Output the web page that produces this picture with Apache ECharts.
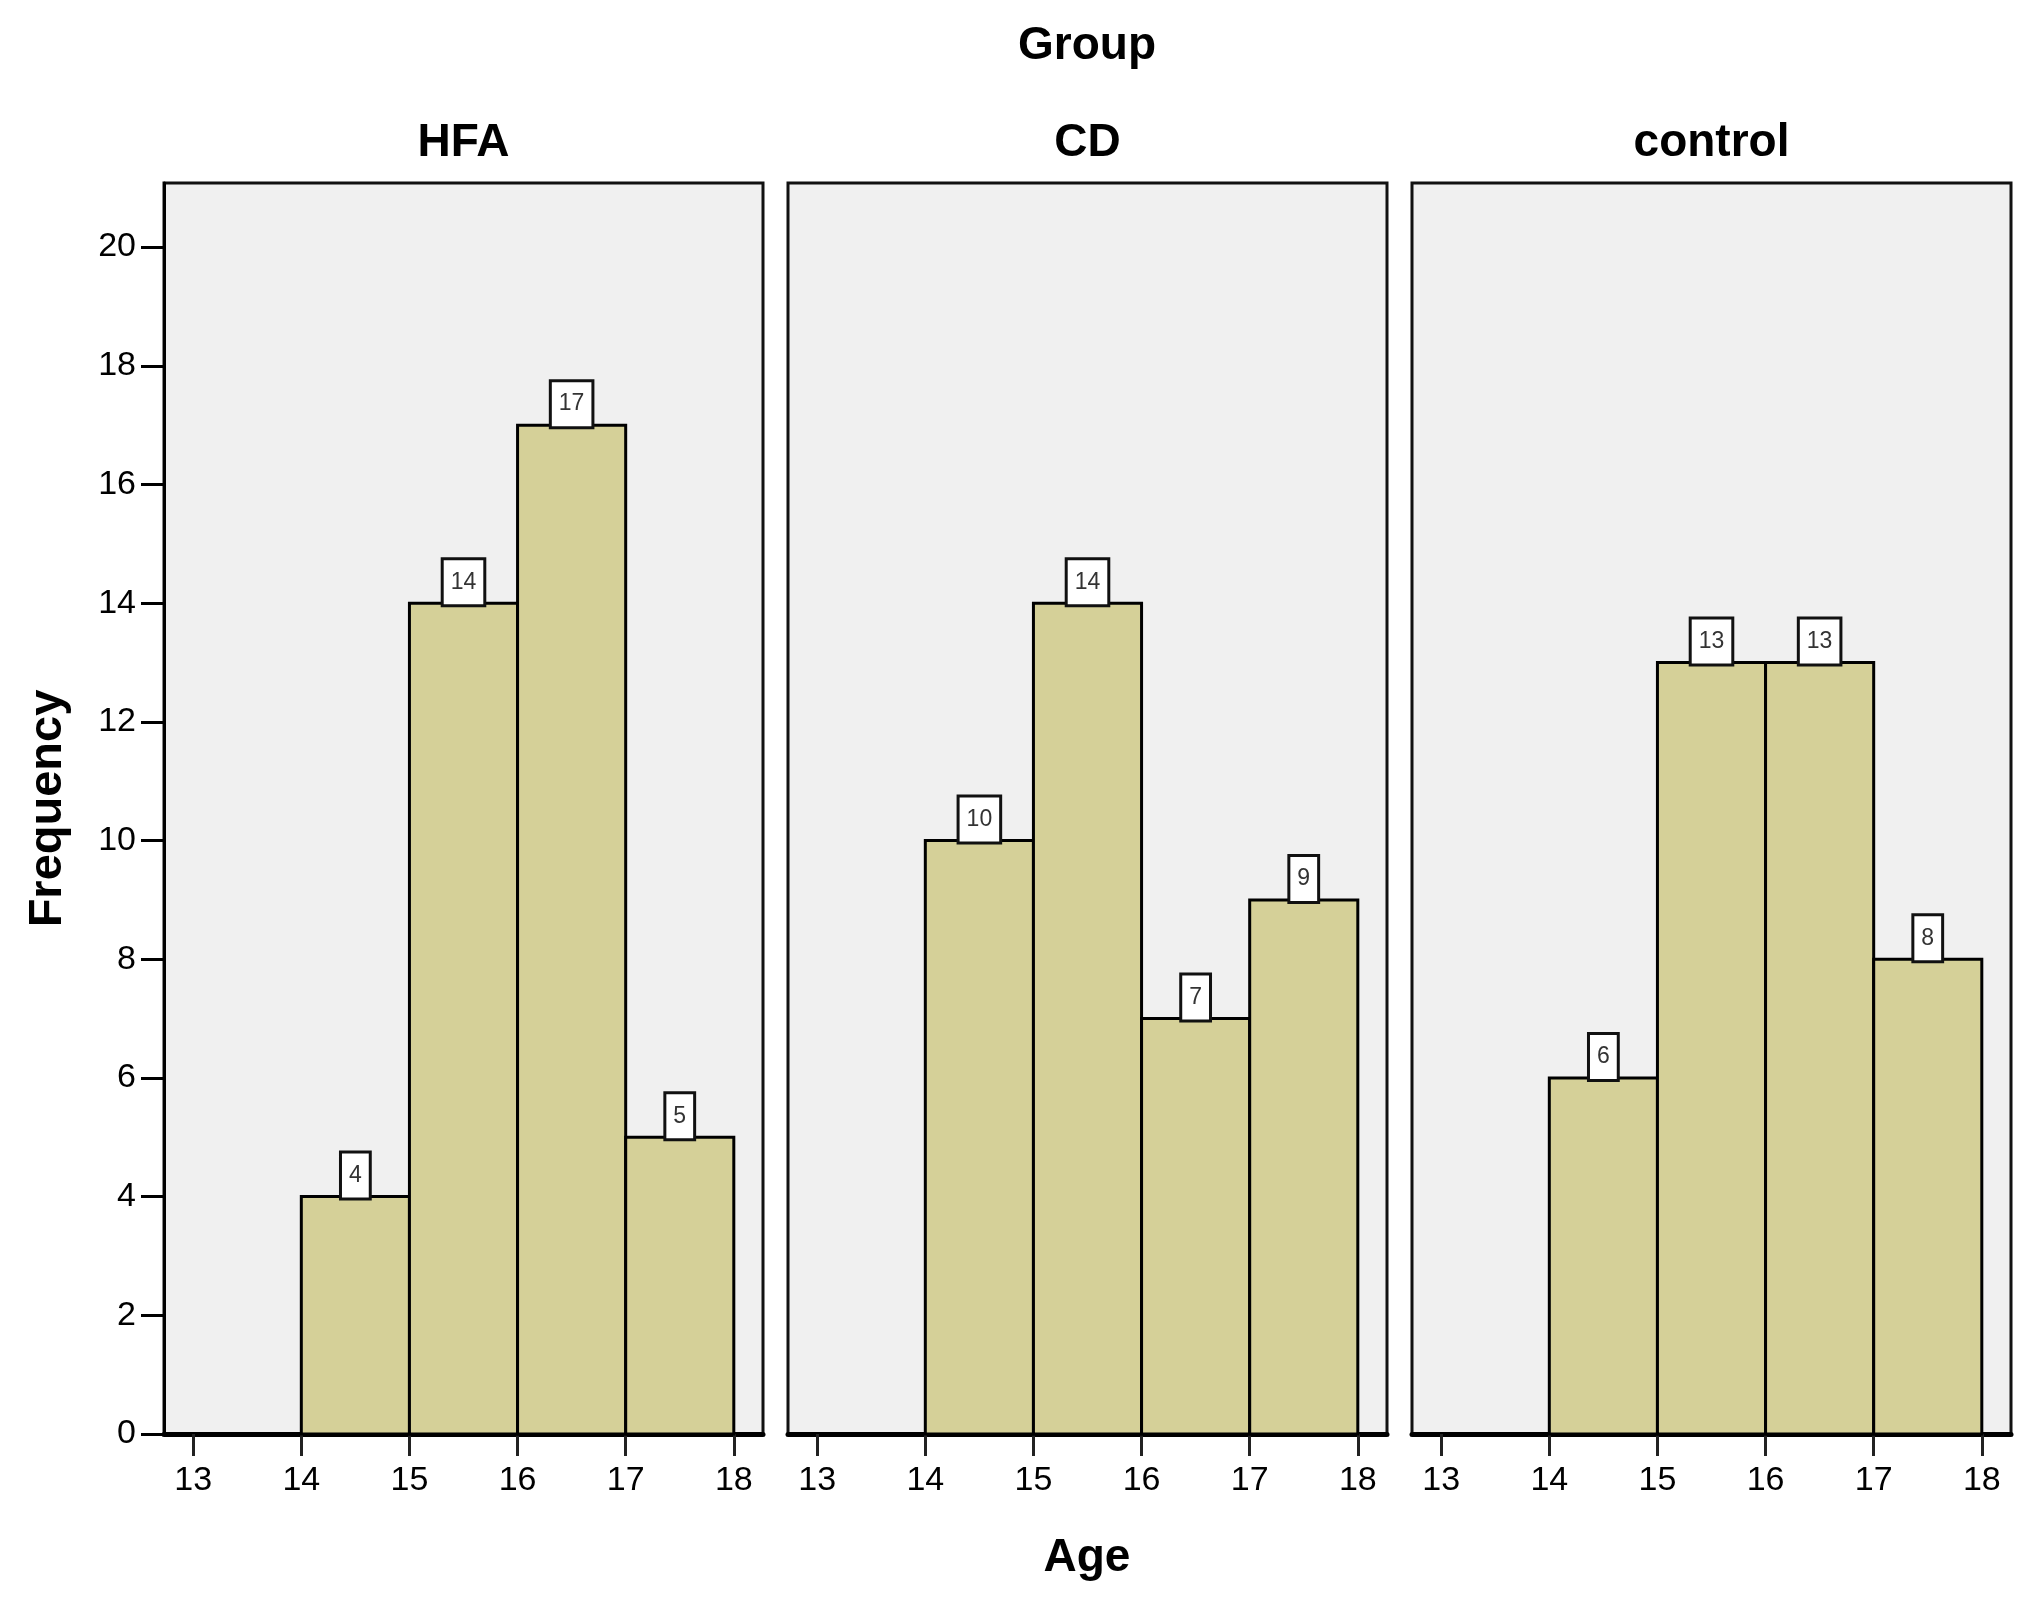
<!DOCTYPE html>
<html>
<head>
<meta charset="utf-8">
<script src="https://cdn.jsdelivr.net/npm/echarts@6/dist/echarts.min.js"></script>
<style>
  html, body { margin: 0; padding: 0; background: #fff; }
  #chart { width: 2023px; height: 1600px; }
</style>
</head>
<body>
<div id="chart"></div>
<script>
// ---- data ----
const groups = ['HFA', 'CD', 'control'];
const binEdges = [14, 15, 16, 17, 18];
const hfaCounts = [4, 14, 17, 5];
const cdCounts = [10, 14, 7, 9];
const controlCounts = [6, 13, 13, 8];
const xTickValues = [13, 14, 15, 16, 17, 18];
const yTickValues = [0, 2, 4, 6, 8, 10, 12, 14, 16, 18, 20];
const superTitle = 'Group';
const xTitle = 'Age';
const yTitle = 'Frequency';

const countsByGroup = [hfaCounts, cdCounts, controlCounts];

// ---- layout ----
const panelLefts = [164, 788, 1412];
const panelWidth = 599;
const panelTop = 183;
const panelBottomY = 1434;
const FONT = 'Arial, "Liberation Sans", sans-serif';

const grids = panelLefts.map(l => ({
  left: l, top: panelTop, width: panelWidth, height: panelBottomY - panelTop,
  show: true, backgroundColor: '#f0f0f0', borderColor: '#111', borderWidth: 3,
  containLabel: false
}));

const xAxes = panelLefts.map((l, i) => ({
  type: 'value', gridIndex: i, min: 12.73, max: 18.27,
  splitLine: { show: false },
  axisLine: { show: true, onZero: false, lineStyle: { color: '#000', width: 5 } },
  axisTick: { show: true, inside: false, length: 22, customValues: xTickValues,
              lineStyle: { color: '#222', width: 3 } },
  axisLabel: { show: true, customValues: xTickValues, margin: 30, fontSize: 34,
               color: '#000', fontFamily: FONT }
}));

const yAxes = panelLefts.map((l, i) => ({
  type: 'value', gridIndex: i, min: 0, max: 21.08,
  show: i === 0,
  splitLine: { show: false },
  axisLine: { show: true, lineStyle: { color: '#000', width: 3 } },
  axisTick: { show: true, inside: false, length: 23, customValues: yTickValues,
              lineStyle: { color: '#000', width: 3 } },
  axisLabel: { show: true, customValues: yTickValues, margin: 28, fontSize: 34,
               color: '#000', fontFamily: FONT },
  name: i === 0 ? yTitle : '',
  nameLocation: 'middle',
  nameRotate: 90,
  nameGap: 92,
  nameTextStyle: { fontSize: 47, fontWeight: 'bold', color: '#000', fontFamily: FONT }
}));

function renderBar(params, api) {
  const x0 = api.value(0), x1 = api.value(1), v = api.value(2);
  const pTop = api.coord([x0, v]);
  const pBot = api.coord([x1, 0]);
  const cx = (pTop[0] + pBot[0]) / 2;
  return {
    type: 'group',
    children: [
      {
        type: 'rect',
        shape: { x: pTop[0], y: pTop[1], width: pBot[0] - pTop[0], height: pBot[1] - pTop[1] },
        style: { fill: '#d5d098', stroke: '#000', lineWidth: 3 }
      },
      {
        type: 'text',
        x: cx, y: pTop[1] + 1,
        z2: 10,
        style: {
          text: String(v),
          font: '23px ' + FONT,
          fill: '#333',
          align: 'center',
          verticalAlign: 'bottom',
          lineHeight: 24,
          backgroundColor: '#fff',
          borderColor: '#111',
          borderWidth: 3,
          padding: [10, 7, 10, 7]
        }
      }
    ]
  };
}

const series = countsByGroup.map((counts, i) => ({
  type: 'custom',
  xAxisIndex: i, yAxisIndex: i,
  renderItem: renderBar,
  encode: { x: [0, 1], y: 2 },
  clip: false,
  data: counts.map((c, k) => [binEdges[k], binEdges[k + 1], c])
}));

const graphics = [
  { type: 'text', x: 1087, y: 46, style: { text: superTitle, font: 'bold 46px ' + FONT, fill: '#000', align: 'center', verticalAlign: 'middle' } },
  { type: 'text', x: 1087, y: 1558, style: { text: xTitle, font: 'bold 46px ' + FONT, fill: '#000', align: 'center', verticalAlign: 'middle' } }
].concat(groups.map((g, i) => ({
  type: 'text', x: panelLefts[i] + panelWidth / 2, y: 143,
  style: { text: g, font: 'bold 46px ' + FONT, fill: '#000', align: 'center', verticalAlign: 'middle' }
})));

const chart = echarts.init(document.getElementById('chart'), null, { renderer: 'canvas' });
chart.setOption({
  backgroundColor: '#fff',
  animation: false,
  grid: grids,
  xAxis: xAxes,
  yAxis: yAxes,
  series: series,
  graphic: graphics
});
</script>
</body>
</html>
